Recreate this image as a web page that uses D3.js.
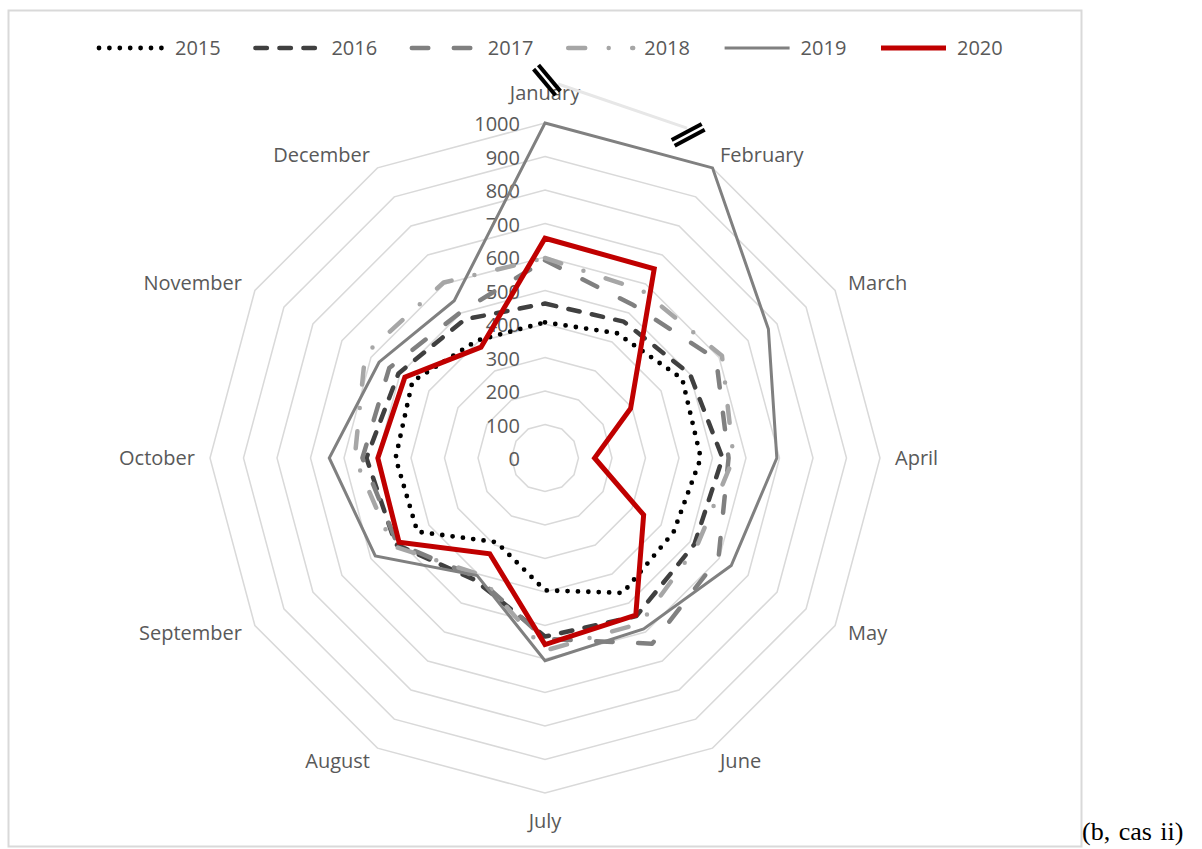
<!DOCTYPE html>
<html>
<head>
<meta charset="utf-8">
<script src="https://cdn.jsdelivr.net/npm/d3@7/dist/d3.min.js"></script>
<style>
  html, body { margin: 0; padding: 0; background: #fff; }
  svg { display: block; }
  text { font-family: 'Open Sans', 'Noto Sans', sans-serif; fill: #595959; }
</style>
</head>
<body>
<div id="chart"></div>
<script>
const WIDTH = 1202;
const HEIGHT = 849;

// categories
const months = ['January', 'February', 'March', 'April', 'May', 'June',
  'July', 'August', 'September', 'October', 'November', 'December'];
const years = ['2015', '2016', '2017', '2018', '2019', '2020'];

// series values (2019 Jan/Feb are cut at the axis max)
const v2015 = [405, 430, 473, 465, 443, 465, 395, 290, 440, 446, 457, 405];
const v2016 = [461, 470, 500, 530, 515, 545, 533, 420, 515, 533, 505, 478];
const v2017 = [590, 527, 590, 548, 598, 640, 540, 410, 510, 545, 537, 503];
const v2018 = [597, 578, 610, 563, 524, 570, 575, 400, 525, 568, 620, 605];
const v2019 = [1000, 1000, 770, 692, 642, 589, 605, 405, 585, 644, 572, 542];
const v2020 = [656, 652, 295, 148, 340, 542, 557, 330, 503, 499, 483, 382];

// value axis
const tickValues = [0, 100, 200, 300, 400, 500, 600, 700, 800, 900, 1000];

// axis-break annotation (angle in degrees, value on the radial scale)
const breakMarks = [
  { angle: 0.3, value: 1128, tilt: 50 },
  { angle: 23.9, value: 1055, tilt: -28 },
];
const breakLink = [{ angle: 2.0, value: 1117 }, { angle: 23.3, value: 1072 }];

const seriesValues = [v2015, v2016, v2017, v2018, v2019, v2020];

const styles = {
  2015: { stroke: '#000000', width: 4.8, dash: '0 10.4', cap: 'round' },
  2016: { stroke: '#404040', width: 4.5, dash: '11.5 12.5', cap: 'round' },
  2017: { stroke: '#808080', width: 4.5, dash: '16.5 25.5', cap: 'round' },
  2018: { stroke: '#a6a6a6', width: 4.5, dash: '17 23.5 0 23.5', cap: 'round' },
  2019: { stroke: '#808080', width: 3, dash: null, cap: 'butt' },
  2020: { stroke: '#c00000', width: 5, dash: null, cap: 'butt' },
};

const cx = 545;
const cy = 458;
const radius = 335;

const svg = d3.select('#chart').append('svg')
  .attr('width', WIDTH)
  .attr('height', HEIGHT);

// chart frame
svg.append('rect')
  .attr('x', 8.5).attr('y', 10.5)
  .attr('width', 1073).attr('height', 836)
  .attr('fill', 'none')
  .attr('stroke', '#d9d9d9')
  .attr('stroke-width', 2);

svg.append('text')
  .attr('x', 1082)
  .attr('y', 840)
  .style('font-family', "'Liberation Serif', 'Times New Roman', serif")
  .style('font-size', '26px')
  .style('fill', '#000')
  .style('word-spacing', '2px')
  .text('(b, cas ii)');

const base = svg.append('g').attr('transform', `translate(${cx},${cy})`);

const rScale = d3.scaleLinear().domain([0, 1000]).range([0, radius]);
const step = (2 * Math.PI) / months.length;

const radial = d3.lineRadial()
  .angle((d, i) => i * step)
  .radius((d) => rScale(d))
  .curve(d3.curveLinearClosed);

const polar = (deg, value) => {
  const a = (deg * Math.PI) / 180;
  const r = rScale(value);
  return [Math.sin(a) * r, -Math.cos(a) * r];
};

// grid rings
base.append('g').attr('class', 'grid')
  .selectAll('path')
  .data(tickValues.filter((t) => t > 0))
  .enter()
  .append('path')
  .attr('d', (t) => radial(months.map(() => t)))
  .attr('fill', 'none')
  .attr('stroke', '#d9d9d9')
  .attr('stroke-width', 1.5);

// value labels
base.append('g').attr('class', 'ticks')
  .selectAll('text')
  .data(tickValues)
  .enter()
  .append('text')
  .attr('x', -25)
  .attr('y', (t) => -rScale(t) + 1)
  .attr('dy', '0.35em')
  .attr('text-anchor', 'end')
  .style('font-size', '20px')
  .text((t) => t);

// month labels
const labelR = radius + 15;
base.append('g').attr('class', 'months')
  .selectAll('text')
  .data(months)
  .enter()
  .append('text')
  .attr('x', (d, i) => Math.sin(i * step) * labelR)
  .attr('y', (d, i) => {
    const c = Math.cos(i * step);
    const y = -c * labelR;
    if (c > 0.99) return y - 8;
    if (c < -0.99) return y + 20;
    return y + 7;
  })
  .attr('text-anchor', (d, i) => {
    const s = Math.sin(i * step);
    if (s > 0.1) return 'start';
    if (s < -0.1) return 'end';
    return 'middle';
  })
  .style('font-size', '20px')
  .text((d) => d);

// series
base.append('g').attr('class', 'series')
  .selectAll('path')
  .data(years)
  .enter()
  .append('path')
  .attr('d', (y, i) => radial(seriesValues[i]))
  .attr('fill', 'none')
  .attr('stroke', (y) => styles[y].stroke)
  .attr('stroke-width', (y) => styles[y].width)
  .attr('stroke-dasharray', (y) => styles[y].dash)
  .attr('stroke-linecap', (y) => styles[y].cap)
  .attr('stroke-linejoin', (y) => (styles[y].dash ? 'round' : 'miter'));

// axis break annotation
const p0 = polar(breakLink[0].angle, breakLink[0].value);
const p1 = polar(breakLink[1].angle, breakLink[1].value);
base.append('line')
  .attr('x1', p0[0]).attr('y1', p0[1])
  .attr('x2', p1[0]).attr('y2', p1[1])
  .attr('stroke', '#e7e7e7')
  .attr('stroke-width', 3);

const marks = base.append('g').attr('class', 'breaks')
  .selectAll('g')
  .data(breakMarks)
  .enter()
  .append('g')
  .attr('transform', (d) => {
    const p = polar(d.angle, d.value);
    return `translate(${p[0]},${p[1]}) rotate(${d.tilt})`;
  });

[-3.2, 3.2].forEach((off) => {
  marks.append('line')
    .attr('x1', -17).attr('x2', 17)
    .attr('y1', off).attr('y2', off)
    .attr('stroke', '#000')
    .attr('stroke-width', 4);
});

// legend
const legend = svg.append('g').attr('class', 'legend')
  .attr('transform', 'translate(96,48)');

const item = legend.selectAll('g')
  .data(years)
  .enter()
  .append('g')
  .attr('transform', (d, i) => `translate(${i * 156.4},0)`);

item.append('line')
  .attr('x1', 3).attr('x2', 68)
  .attr('y1', 0).attr('y2', 0)
  .attr('stroke', (y) => styles[y].stroke)
  .attr('stroke-width', (y) => styles[y].width)
  .attr('stroke-dasharray', (y) => styles[y].dash)
  .attr('stroke-linecap', (y) => styles[y].cap);

item.append('text')
  .attr('x', 79)
  .attr('y', 0)
  .attr('dy', '0.35em')
  .style('font-size', '20px')
  .text((d) => d);
</script>
</body>
</html>
